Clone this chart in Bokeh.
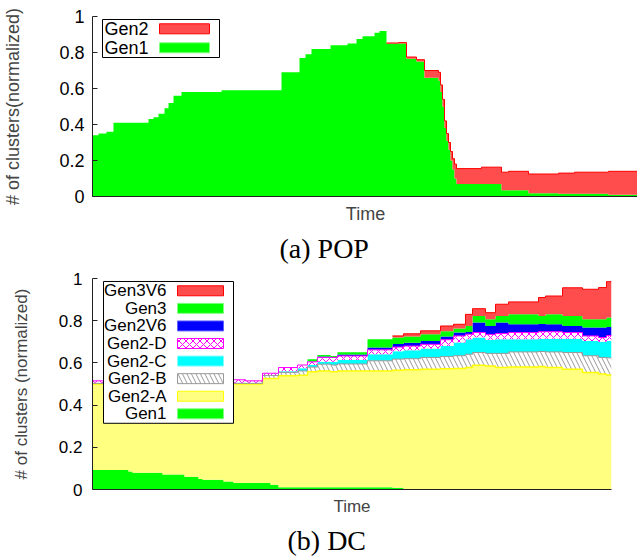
import numpy as np
from bokeh.plotting import figure
from bokeh.models import Range1d, FixedTicker, BoxAnnotation, Label
from bokeh.layouts import column
from bokeh.embed import file_html
from bokeh.resources import INLINE

# ---------------- (a) POP ----------------
pop_time = [0, 6, 14, 21, 56, 61, 66, 72, 76, 81, 89, 129, 189, 207, 213, 219,
            238, 255, 264, 270, 282, 287, 294, 306, 314, 324, 332, 346, 348, 350,
            352, 354, 356, 358, 360, 362, 364, 389, 409, 416, 436, 466, 482, 516]
pop_time_end = 546
pop_gen1 = [0.34, 0.35, 0.36, 0.41, 0.43, 0.44, 0.46, 0.49, 0.52, 0.56, 0.58, 0.59,
            0.69, 0.77, 0.79, 0.82, 0.84, 0.85, 0.875, 0.89, 0.91, 0.92, 0.85, 0.85,
            0.765, 0.75, 0.66, 0.645, 0.58, 0.50, 0.38, 0.31, 0.26, 0.20, 0.15, 0.10,
            0.07, 0.07, 0.035, 0.035, 0.018, 0.015, 0.015, 0.01]
pop_gen2 = [0, 0, 0, 0, 0, 0, 0, 0, 0, 0, 0, 0,
            0, 0, 0, 0, 0, 0, 0, 0, 0, 0, 0.003, 0.005,
            0.01, 0.01, 0.04, 0.045, 0.04, 0.04, 0.04, 0.04, 0.04, 0.05, 0.06, 0.08,
            0.085, 0.093, 0.10, 0.105, 0.107, 0.115, 0.12, 0.13]

# ---------------- (b) DC ----------------
dc_time = [0, 36, 40, 70, 92, 106, 110, 131, 141, 153, 170, 178, 186, 205, 215, 225,
           238, 245, 275, 300, 311, 328, 348, 361, 373, 380, 393, 403, 416, 446, 453,
           470, 490, 506, 514]
dc_time_end = 519
dc_gen1 = [0.093, 0.085, 0.079, 0.071, 0.060, 0.050, 0.046, 0.038, 0.031, 0.031, 0.031,
           0.022, 0.011, 0.011, 0.011, 0.011, 0.011, 0.011, 0.011, 0.008, 0, 0, 0, 0,
           0, 0, 0, 0, 0, 0, 0, 0, 0, 0, 0]
dc_gen2a = [0.407, 0.415, 0.421, 0.429, 0.440, 0.450, 0.454, 0.462, 0.469, 0.469, 0.495,
            0.504, 0.528, 0.531, 0.547, 0.551, 0.547, 0.551, 0.551, 0.557, 0.567, 0.570,
            0.572, 0.573, 0.578, 0.589, 0.585, 0.578, 0.581, 0.583, 0.578, 0.570, 0.555,
            0.547, 0.543]
dc_gen2b = [0.003, 0.003, 0.003, 0.003, 0.003, 0.003, 0.003, 0.003, 0.003, 0.003, 0.014,
            0.014, 0.016, 0.020, 0.022, 0.032, 0.032, 0.033, 0.048, 0.053, 0.053, 0.056,
            0.058, 0.061, 0.063, 0.060, 0.060, 0.067, 0.071, 0.071, 0.074, 0.079, 0.079,
            0.079, 0.081]
dc_gen2c = [0.003, 0.003, 0.003, 0.003, 0.003, 0.003, 0.003, 0.003, 0.003, 0.003, 0.003,
            0.003, 0.005, 0.013, 0.010, 0.011, 0.015, 0.019, 0.031, 0.037, 0.040, 0.042,
            0.050, 0.063, 0.071, 0.071, 0.065, 0.067, 0.060, 0.061, 0.063, 0.066, 0.070,
            0.074, 0.081]
dc_gen2d = [0.009, 0.009, 0.009, 0.009, 0.009, 0.009, 0.009, 0.009, 0.014, 0.009, 0.008,
            0.008, 0.018, 0.015, 0.015, 0.021, 0.021, 0.019, 0.021, 0.020, 0.020, 0.020,
            0.030, 0.031, 0.024, 0.024, 0.025, 0.027, 0.032, 0.033, 0.033, 0.029, 0.024,
            0.020, 0.025]
dc_gen2v6 = [0, 0, 0, 0, 0, 0, 0, 0, 0, 0, 0, 0, 0, 0, 0.002, 0.004, 0.002, 0.007, 0.011,
             0.015, 0.015, 0.016, 0.015, 0.016, 0.011, 0.047, 0.040, 0.052, 0.039, 0.036,
             0.035, 0.031, 0.040, 0.048, 0.040]
dc_gen3 = [0, 0, 0, 0, 0, 0, 0, 0, 0, 0, 0, 0, 0, 0, 0.010, 0.007, 0.005, 0.010, 0.039,
           0.030, 0.030, 0.032, 0.025, 0.019, 0.028, 0.031, 0.032, 0.031, 0.047, 0.038,
           0.047, 0.047, 0.039, 0.039, 0.045]
dc_gen3v6 = [0, 0, 0, 0, 0, 0, 0, 0, 0, 0, 0, 0, 0, 0, 0, 0, 0, 0, 0, 0.008, 0.013, 0.016,
             0.025, 0.020, 0.055, 0.035, 0.031, 0.056, 0.059, 0.088, 0.087, 0.134, 0.142,
             0.150, 0.170]

yticks = [0, 0.2, 0.4, 0.6, 0.8, 1]
ytick_labels = ["0", "0.2", "0.4", "0.6", "0.8", "1"]

SANS = "Liberation Sans"
SERIF = "Liberation Serif"

RED = "#ff4d4d"
RED_LINE = "#ff0000"
GREEN = "#00ff00"
YELLOW = "#ffff80"
YELLOW_LINE = "#ffff00"
CYAN = "#00ffff"
BLUE = "#0000ff"
MAGENTA = "#ff00ff"
GRAY = "#999999"


def step_xy(t, y, t_end):
    t = np.asarray(t, float)
    y = np.asarray(y, float)
    xs = np.repeat(np.append(t, t_end), 2)[1:-1]
    ys = np.repeat(y, 2)
    return xs, ys


def draw_stack(p, t, t_end, series, styles):
    base = np.zeros(len(t))
    lines = []
    for vals, st in zip(series, styles):
        vals = np.asarray(vals, float)
        top = base + vals
        xs, y1 = step_xy(t, base, t_end)
        _, y2 = step_xy(t, top, t_end)
        _, th = step_xy(t, vals, t_end)
        kw = dict(fill_color=st["fill"], fill_alpha=1.0)
        if st.get("hatch"):
            kw.update(hatch_pattern=st["hatch"], hatch_color=st["hcolor"],
                      hatch_scale=st.get("hscale", 8), hatch_weight=1, hatch_alpha=1.0)
        p.varea(x=xs, y1=y1, y2=y2, **kw)
        if st.get("line"):
            yl = np.where(th > 0, y2, np.nan)
            lines.append((xs, yl, st["line"], st.get("lw", 1)))
        base = top
    for xs, yl, c, lw in lines:
        p.line(xs, yl, line_color=c, line_width=lw)


def style_fig(p, ylabel, font_px, tick_standoff, label_standoff, xlabel_standoff,
              title_offset, title_px, title_standoff):
    p.grid.visible = False
    p.outline_line_color = None
    p.background_fill_color = "white"
    p.border_fill_color = "white"
    p.xaxis.ticker = FixedTicker(ticks=[])
    p.xaxis.major_tick_out = 0
    p.xaxis.minor_tick_out = 0
    p.xaxis.major_label_text_font_size = "0px"
    p.xaxis.axis_label = "Time"
    p.xaxis.axis_label_text_font = SANS
    p.xaxis.axis_label_text_font_style = "normal"
    p.xaxis.axis_label_text_font_size = font_px
    p.xaxis.axis_label_standoff = xlabel_standoff
    p.xaxis.axis_line_color = "#222222"
    p.yaxis.ticker = FixedTicker(ticks=yticks)
    p.yaxis.major_label_overrides = {float(k): v for k, v in zip(yticks, ytick_labels)}
    p.yaxis.major_tick_in = 5
    p.yaxis.major_tick_out = 0
    p.yaxis.minor_tick_in = 0
    p.yaxis.minor_tick_out = 0
    p.yaxis.major_tick_line_color = "#222222"
    p.yaxis.axis_line_color = "#222222"
    p.yaxis.major_label_text_font = SANS
    p.yaxis.major_label_text_font_size = font_px
    p.yaxis.major_label_text_color = "black"
    p.yaxis.major_label_standoff = tick_standoff
    p.yaxis.axis_label = ylabel
    p.yaxis.axis_label_text_font = SANS
    p.yaxis.axis_label_text_font_style = "normal"
    p.yaxis.axis_label_text_font_size = font_px
    p.yaxis.axis_label_standoff = label_standoff
    p.title.text_font = SERIF
    p.title.text_font_style = "normal"
    p.title.text_font_size = title_px
    p.title.align = "left"
    p.title.offset = title_offset
    p.title.standoff = title_standoff
    p.title.text_color = "black"


# ---------- figure (a) ----------
p1 = figure(frame_width=546, frame_height=180, x_range=Range1d(0, 546), y_range=Range1d(0, 1),
            output_backend="svg", toolbar_location=None, min_border_left=91,
            min_border_right=0, min_border_top=16, min_border_bottom=66,
            title="(a) POP", title_location="below")
style_fig(p1, "# of clusters(normalized)", "18px", 8, 33, 7, 187, "28px", 8)

draw_stack(p1, pop_time, pop_time_end, [pop_gen1, pop_gen2],
           [dict(fill=GREEN), dict(fill=RED, line=RED_LINE)])


def px1(x):
    return x - 91


def py1(y):
    return (196 - y) / 180.0


p1.add_layout(BoxAnnotation(left=px1(101), right=px1(218), top=py1(19), bottom=py1(57),
                            fill_color="white", fill_alpha=1, line_color="black",
                            line_width=1, line_alpha=1))
pop_legend = [("Gen2", RED, RED_LINE, 28.3), ("Gen1", GREEN, "#80ff80", 47.3)]
for name, fc, lc, yc in pop_legend:
    p1.add_layout(BoxAnnotation(left=px1(158), right=px1(208), top=py1(yc - 5),
                                bottom=py1(yc + 5), fill_color=fc, fill_alpha=1,
                                line_color=lc, line_alpha=1, line_width=1))
    p1.add_layout(Label(x=px1(103), y=py1(yc), text=name, text_font=SANS,
                        text_font_size="18px", text_align="left", text_baseline="middle",
                        text_color="black"))

# ---------- figure (b) ----------
p2 = figure(frame_width=519, frame_height=211, x_range=Range1d(0, 519), y_range=Range1d(0, 1),
            output_backend="svg", toolbar_location=None, min_border_left=92,
            min_border_right=26, min_border_top=11, min_border_bottom=66,
            title="(b) DC", title_location="below")
style_fig(p2, "# of clusters (normalized)", "17px", 10, 25, 7, 195, "28px", 9)

dc_styles = [
    dict(fill=GREEN),
    dict(fill=YELLOW, line=YELLOW_LINE, lw=1.5),
    dict(fill="white", hatch="\\", hcolor=GRAY, hscale=9, line=GRAY),
    dict(fill=CYAN),
    dict(fill="white", hatch="x", hcolor=MAGENTA, hscale=7, line=MAGENTA),
    dict(fill=BLUE),
    dict(fill=GREEN),
    dict(fill=RED, line=RED_LINE),
]
draw_stack(p2, dc_time, dc_time_end,
           [dc_gen1, dc_gen2a, dc_gen2b, dc_gen2c, dc_gen2d, dc_gen2v6, dc_gen3, dc_gen3v6],
           dc_styles)


def px2(x):
    return x - 92


def py2(y):
    return (487.3 - y) / 211.3


p2.add_layout(BoxAnnotation(left=px2(103), right=px2(233), top=py2(279), bottom=py2(421),
                            fill_color="white", fill_alpha=1, line_color="black",
                            line_width=1, line_alpha=1))
dc_legend = [
    ("Gen3V6", dict(fill_color=RED, line_color=RED_LINE)),
    ("Gen3", dict(fill_color=GREEN, line_color="#80ff80")),
    ("Gen2V6", dict(fill_color=BLUE, line_color="#6060ff")),
    ("Gen2-D", dict(fill_color="white", line_color=MAGENTA, hatch_pattern="x",
                    hatch_color=MAGENTA, hatch_scale=7, hatch_weight=1)),
    ("Gen2-C", dict(fill_color=CYAN, line_color="#80ffff")),
    ("Gen2-B", dict(fill_color="white", line_color=GRAY, hatch_pattern="\\",
                    hatch_color=GRAY, hatch_scale=9, hatch_weight=1)),
    ("Gen2-A", dict(fill_color=YELLOW, line_color=YELLOW_LINE)),
    ("Gen1", dict(fill_color=GREEN, line_color="#80ff80")),
]
for i, (name, kw) in enumerate(dc_legend):
    yc = 288.3 + 17.6 * i
    p2.add_layout(BoxAnnotation(left=px2(177), right=px2(223), top=py2(yc - 5),
                                bottom=py2(yc + 5), fill_alpha=1, line_alpha=1,
                                line_width=1, **kw))
    p2.add_layout(Label(x=px2(166), y=py2(yc), text=name, text_font=SANS,
                        text_font_size="17px", text_align="right", text_baseline="middle",
                        text_color="black"))

layout = column(p1, p2, spacing=0)
open("out.html", "w").write(file_html(layout, INLINE))
